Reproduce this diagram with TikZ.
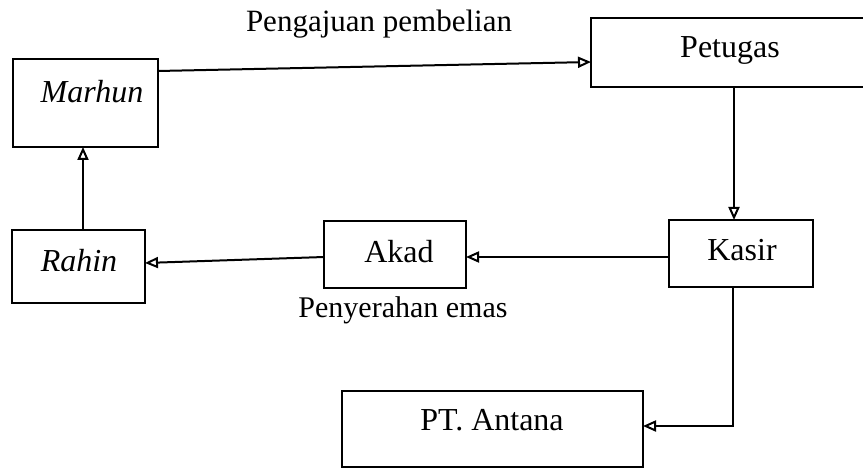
\documentclass[tikz,border=0pt]{standalone}
\usepackage{fontspec}
\setmainfont{Liberation Serif}
\usetikzlibrary{arrows.meta}
\tikzset{
  boxnode/.style={draw, line width=2.4pt, inner sep=0pt, outer sep=0pt},
  boxtext/.style={anchor=base, inner sep=0pt, font=\fontsize{32}{38}\selectfont},
  lbltext/.style={anchor=base, inner sep=0pt, font=\fontsize{30}{36}\selectfont},
  conn/.style={line width=2pt, -{Triangle[open, length=13pt, width=11pt, line width=2pt]}}
}
\begin{document}
\begin{tikzpicture}[x=1pt, y=-1pt]
\useasboundingbox (0,0) rectangle (863,468);
\clip (0,0) rectangle (863,468);
\fill[white] (0,0) rectangle (863,468);
% boxes
\node[boxnode, minimum width=145, minimum height=88] (marhun) at (85.5,103) {};
\node[boxnode, minimum width=289, minimum height=69] (petugas) at (735.5,52.5) {};
\node[boxnode, minimum width=133, minimum height=73] (rahin) at (78.5,266.5) {};
\node[boxnode, minimum width=142, minimum height=67] (akad) at (395,254.5) {};
\node[boxnode, minimum width=144, minimum height=67] (kasir) at (741,253.5) {};
\node[boxnode, minimum width=301, minimum height=76] (pt) at (492.5,429) {};
% texts
\node[boxtext] (tmarhun) at (92,103) {\itshape Marhun};
\node[boxtext] (tpetugas) at (730,58) {Petugas};
\node[boxtext] (trahin) at (79,272) {\itshape Rahin};
\node[boxtext] (takad) at (399,262) {Akad};
\node[boxtext] (tkasir) at (742,260) {Kasir};
\node[boxtext] (tpt) at (492,430) {PT. Antana};
\node[lbltext, font=\fontsize{31}{36}\selectfont] (lpeng) at (379,32) {Pengajuan pembelian};
\node[lbltext] (lpeny) at (403,317) {Penyerahan emas};
% connectors
\draw[conn] ([yshift=32pt]marhun.east) -- ([yshift=-9.5pt]petugas.west);
\draw[conn] ([xshift=-7pt]kasir.north |- petugas.south) -- ([xshift=-7pt]kasir.north);
\draw[conn] ([yshift=-3.5pt]kasir.west) -- ([yshift=-2.5pt]akad.east);
\draw[conn] ([yshift=-2.5pt]akad.west) -- ([yshift=3.5pt]rahin.east);
\draw[conn] ([xshift=4.5pt]rahin.north) -- ([xshift=-2.5pt]marhun.south);
\draw[conn] ([xshift=-8pt]kasir.south) |- ([yshift=3pt]pt.east);
\end{tikzpicture}
\end{document}
